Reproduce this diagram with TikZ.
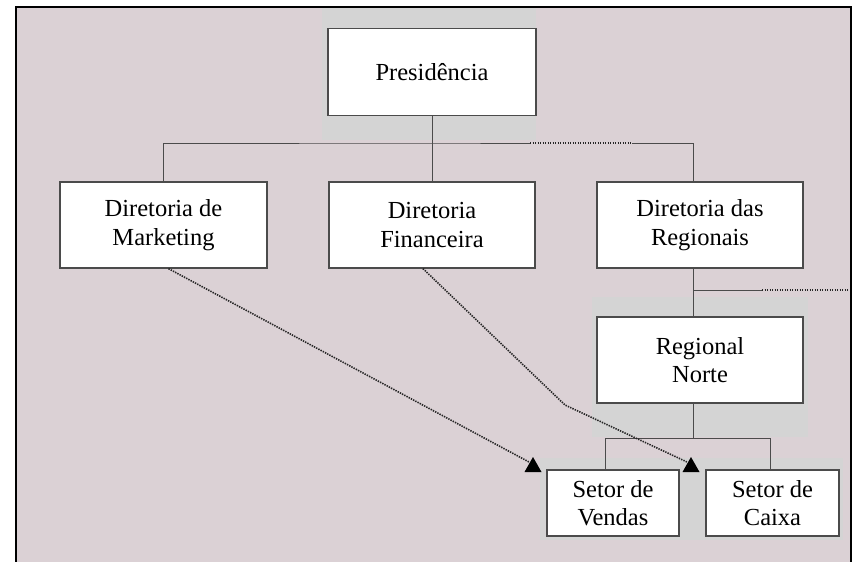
\documentclass[tikz,border=0pt]{standalone}
\usepackage{fontspec}
\setmainfont{Liberation Serif}
\definecolor{bgpink}{RGB}{219,209,213}
\definecolor{scangray}{RGB}{212,212,212}
\definecolor{linegray}{RGB}{75,75,75}
\begin{document}
\begin{tikzpicture}[x=1pt,y=-1pt,
  box/.style={draw=linegray, line width=1.3pt, fill=white, rectangle, align=center,
              font=\fontsize{24.5}{28.5}\selectfont, inner sep=0pt},
  conn/.style={draw=linegray, line width=1pt},
  dotline/.style={draw=black!85, line width=1.6pt, dash pattern=on 1.4pt off 1.1pt},
  tri/.style={fill=black}]
\useasboundingbox (0,0) rectangle (852,562);
\fill[white] (0,0) rectangle (852,562);
\fill[bgpink] (16,6) rectangle (851,562);
% light grey scan patches behind some boxes
\fill[scangray] (322,8) rectangle (536,140);
\fill[scangray] (592,297) rectangle (808,437);
\fill[scangray] (540,458) rectangle (843,540);
% frame
\draw[black, line width=2pt] (16,575) -- (16,6.5) -- (850.5,6.5) -- (850.5,575);

% boxes
\node[box, minimum width=208, minimum height=87] (pres)  at (432,72)    {Presidência};
\node[box, minimum width=207, minimum height=86] (mkt)   at (163.5,225) {Diretoria de\\Marketing};
\node[box, minimum width=206, minimum height=86] (fin)   at (432,225)   {Diretoria\\Financeira};
\node[box, minimum width=206, minimum height=86] (reg)   at (700,225)   {Diretoria das\\Regionais};
\node[box, minimum width=206, minimum height=86] (norte) at (700,360)   {Regional\\Norte};
\node[box, minimum width=132, minimum height=66] (vend)  at (613,503)   {Setor de\\Vendas};
\node[box, minimum width=133, minimum height=66] (caixa) at (772.5,503) {Setor de\\Caixa};

% top bus
\coordinate (bus) at (432,143);
\coordinate (d1s) at (530,143);
\coordinate (d1e) at (632,143);
\coordinate (rv)  at (693,143);
\draw[conn] (pres.south) -- (fin.north);
\draw[conn] (mkt.north) |- (bus) -- (d1s);
\draw[dotline] (d1s) -- (d1e);
\draw[conn] (d1e) -- (rv) -- (rv |- reg.north);

% regionais -> norte, with branch to the right
\coordinate (br)  at (693,290);
\coordinate (d2s) at (762,290);
\coordinate (d2e) at (848,290);
\draw[conn] (reg.south -| rv) -- (norte.north -| rv);
\draw[conn] (br) -- (d2s);
\draw[dotline] (d2s) -- (d2e);

% norte -> setores
\coordinate (nb) at (693,438);
\coordinate (vx) at (605,438);
\coordinate (cx) at (770,438);
\draw[conn] (norte.south -| nb) -- (nb);
\draw[conn] (vend.north -| vx) -- (vx) -- (cx) -- (caixa.north -| cx);

% dotted arrows
\coordinate (t1) at (529,462);
\coordinate (bend) at (565,405);
\coordinate (t2) at (687,462);
\draw[dotline] ([xshift=5pt]mkt.south) -- (t1);
\draw[dotline] ([xshift=-9pt]fin.south) -- (bend) -- (t2);
\fill[tri] (533,457) -- (541.5,472) -- (524.5,472) -- cycle;
\fill[tri] (691,457) -- (699.5,472) -- (682.5,472) -- cycle;
\end{tikzpicture}
\end{document}
